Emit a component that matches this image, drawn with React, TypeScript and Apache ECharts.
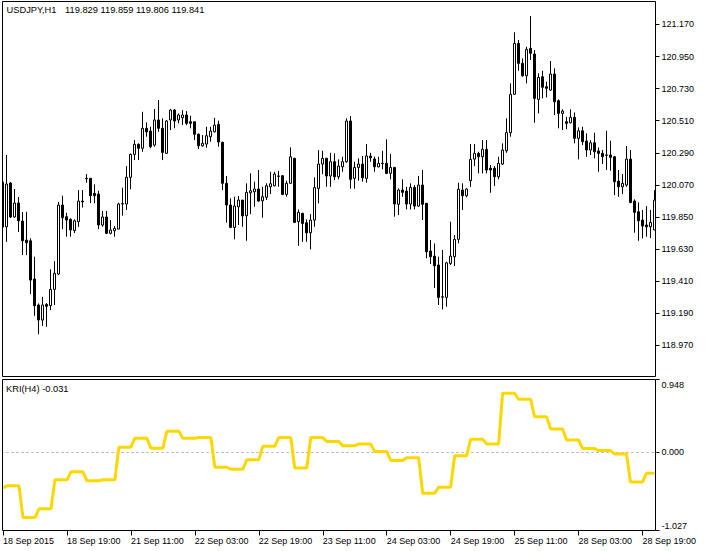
import React, { useEffect, useRef } from 'react';
import * as echarts from 'echarts';

// Tick labels
const priceTicks = [121.17, 120.95, 120.73, 120.51, 120.29, 120.07, 119.85, 119.63, 119.41, 119.19, 118.97];
const kriTicks = [0.948, 0, -1.027];
const timeLabels = [
  '18 Sep 2015', '18 Sep 19:00', '21 Sep 11:00', '22 Sep 03:00', '22 Sep 19:00', '23 Sep 11:00',
  '24 Sep 03:00', '24 Sep 19:00', '25 Sep 11:00', '28 Sep 03:00', '28 Sep 19:00',
];

// USDJPY H1 candles: [open, close, low, high]
const ohlc: number[][] = [
  [120.090, 119.781, 119.761, 120.117], [119.783, 120.076, 119.680, 120.275], [120.083, 119.850, 119.843, 120.090],
  [119.850, 119.946, 119.846, 120.042], [119.946, 119.824, 119.747, 119.987], [119.822, 119.687, 119.589, 119.884],
  [119.692, 119.673, 119.589, 119.886], [119.687, 119.418, 119.322, 119.704], [119.425, 119.242, 119.173, 119.578],
  [119.247, 119.144, 119.046, 119.258], [119.144, 119.247, 119.103, 119.303], [119.251, 119.238, 119.098, 119.260],
  [119.243, 119.354, 119.212, 119.491], [119.354, 119.464, 119.247, 119.548], [119.459, 119.932, 119.452, 119.953],
  [119.932, 119.845, 119.767, 119.996], [119.852, 119.829, 119.715, 119.879], [119.834, 119.761, 119.715, 119.841],
  [119.757, 119.824, 119.740, 119.834], [119.818, 119.959, 119.783, 120.035], [119.959, 119.953, 119.915, 120.035],
  [120.115, 120.113, 120.085, 120.144], [120.115, 119.996, 119.946, 120.117], [120.012, 119.996, 119.944, 120.074],
  [120.007, 119.795, 119.767, 120.030], [119.795, 119.850, 119.783, 119.891], [119.850, 119.738, 119.733, 119.891],
  [119.738, 119.761, 119.731, 119.829], [119.756, 119.772, 119.715, 119.788], [119.767, 119.939, 119.767, 119.948],
  [119.939, 119.942, 119.859, 120.051], [119.939, 120.122, 119.898, 120.199], [120.122, 120.279, 120.040, 120.286],
  [120.279, 120.348, 120.240, 120.377], [120.348, 120.321, 120.240, 120.355], [120.321, 120.458, 120.297, 120.571],
  [120.458, 120.434, 120.400, 120.499], [120.439, 120.332, 120.321, 120.469], [120.343, 120.515, 120.332, 120.590],
  [120.515, 120.458, 120.434, 120.652], [120.458, 120.293, 120.240, 120.526], [120.286, 120.508, 120.284, 120.515],
  [120.515, 120.583, 120.446, 120.590], [120.583, 120.508, 120.458, 120.590], [120.515, 120.549, 120.492, 120.560],
  [120.530, 120.549, 120.480, 120.583], [120.549, 120.492, 120.480, 120.576], [120.503, 120.492, 120.458, 120.544],
  [120.503, 120.417, 120.377, 120.503], [120.417, 120.338, 120.316, 120.423], [120.338, 120.355, 120.332, 120.412],
  [120.350, 120.407, 120.325, 120.469], [120.400, 120.439, 120.366, 120.469], [120.434, 120.480, 120.430, 120.530],
  [120.485, 120.364, 120.332, 120.510], [120.362, 120.081, 120.035, 120.366], [120.081, 119.932, 119.811, 120.131],
  [119.932, 119.779, 119.774, 119.978], [119.779, 119.925, 119.697, 119.989], [119.920, 119.966, 119.795, 119.994],
  [119.966, 119.857, 119.783, 119.966], [119.859, 120.019, 119.687, 120.081], [120.016, 120.030, 119.870, 120.149],
  [120.023, 120.042, 119.920, 120.092], [120.042, 119.959, 119.955, 120.172], [119.961, 119.989, 119.845, 120.057],
  [119.985, 120.064, 119.966, 120.081], [120.057, 120.078, 120.007, 120.160], [120.064, 120.144, 120.060, 120.160],
  [120.131, 120.129, 120.057, 120.167], [120.133, 120.005, 120.000, 120.137], [120.005, 120.081, 119.989, 120.099],
  [120.081, 120.263, 120.078, 120.327], [120.252, 119.813, 119.810, 120.256], [119.818, 119.882, 119.653, 119.902],
  [119.875, 119.806, 119.680, 119.879], [119.811, 119.742, 119.680, 119.834], [119.742, 119.829, 119.628, 119.870],
  [119.829, 120.051, 119.783, 120.122], [120.046, 120.213, 119.944, 120.309], [120.213, 120.252, 120.144, 120.304],
  [120.252, 120.131, 120.057, 120.256], [120.131, 120.229, 120.057, 120.290], [120.229, 120.126, 120.103, 120.286],
  [120.126, 120.199, 120.108, 120.245], [120.194, 120.229, 120.160, 120.263], [120.229, 120.508, 120.222, 120.526],
  [120.508, 120.108, 120.044, 120.542], [120.115, 120.190, 120.044, 120.229], [120.190, 120.213, 120.099, 120.252],
  [120.213, 120.119, 120.092, 120.268], [120.115, 120.268, 120.085, 120.350], [120.268, 120.256, 120.229, 120.290],
  [120.247, 120.194, 120.160, 120.263], [120.194, 120.218, 120.190, 120.263], [120.218, 120.216, 120.177, 120.304],
  [120.218, 120.149, 120.144, 120.382], [120.149, 120.190, 120.108, 120.282], [120.190, 119.939, 119.852, 120.190],
  [119.937, 120.035, 119.863, 120.046], [120.035, 120.019, 119.989, 120.108], [120.028, 119.939, 119.902, 120.057],
  [119.939, 120.053, 119.902, 120.081], [120.053, 119.925, 119.902, 120.069], [119.925, 120.069, 119.920, 120.131],
  [120.069, 119.937, 119.829, 120.172], [119.944, 119.612, 119.567, 119.944], [119.617, 119.578, 119.528, 119.692],
  [119.582, 119.516, 119.363, 119.669], [119.521, 119.299, 119.247, 119.578], [119.303, 119.301, 119.217, 119.624],
  [119.299, 119.536, 119.235, 119.543], [119.532, 119.582, 119.521, 119.818], [119.578, 119.697, 119.514, 119.726],
  [119.697, 120.040, 119.669, 120.085], [120.035, 119.996, 119.898, 120.081], [119.996, 120.042, 119.985, 120.046],
  [120.099, 120.245, 120.057, 120.350], [120.247, 120.286, 120.199, 120.350], [120.286, 120.263, 120.149, 120.297],
  [120.263, 120.314, 120.149, 120.377], [120.314, 120.172, 120.149, 120.377], [120.184, 120.172, 120.016, 120.206],
  [120.184, 120.126, 120.062, 120.199], [120.126, 120.218, 120.108, 120.263], [120.213, 120.309, 120.206, 120.355],
  [120.304, 120.428, 120.290, 120.526], [120.428, 120.691, 120.400, 120.766], [120.691, 121.040, 120.688, 121.116],
  [121.040, 120.903, 120.852, 121.063], [120.903, 120.818, 120.811, 120.937], [120.818, 120.999, 120.766, 121.017],
  [121.006, 120.972, 120.926, 121.227], [120.967, 120.663, 120.496, 120.994], [120.656, 120.807, 120.560, 120.835],
  [120.811, 120.739, 120.663, 120.852], [120.743, 120.732, 120.670, 120.777], [120.720, 120.830, 120.715, 120.919],
  [120.830, 120.640, 120.549, 120.869], [120.647, 120.560, 120.458, 120.656], [120.560, 120.576, 120.446, 120.588],
  [120.503, 120.492, 120.451, 120.537], [120.496, 120.533, 120.492, 120.588], [120.533, 120.389, 120.355, 120.567],
  [120.389, 120.441, 120.245, 120.464], [120.441, 120.366, 120.343, 120.469], [120.371, 120.309, 120.263, 120.423],
  [120.309, 120.359, 120.275, 120.377], [120.359, 120.297, 120.252, 120.428], [120.302, 120.286, 120.160, 120.327],
  [120.286, 120.263, 120.213, 120.309], [120.275, 120.273, 120.172, 120.441], [120.275, 120.259, 120.167, 120.373],
  [120.263, 120.092, 120.000, 120.268], [120.096, 120.057, 119.989, 120.172], [120.057, 120.081, 120.007, 120.144],
  [120.069, 120.247, 120.057, 120.336], [120.247, 119.950, 119.944, 120.309], [119.959, 119.882, 119.742, 119.971],
  [119.886, 119.824, 119.687, 119.950], [119.829, 119.788, 119.704, 119.898], [119.795, 119.783, 119.715, 119.925],
  [119.783, 119.813, 119.706, 119.898], [119.761, 119.966, 119.761, 120.035],
];

// KRI(H4) indicator values, one per H1 bar
const kri = [
  -0.47,
  -0.443, -0.443, -0.443, -0.443, -0.857, -0.857, -0.857, -0.857,
  -0.743, -0.743, -0.743, -0.743, -0.364, -0.364, -0.364, -0.364,
  -0.26, -0.26, -0.26, -0.26, -0.377, -0.377, -0.377, -0.377,
  -0.364, -0.364, -0.364, -0.364, 0.063, 0.063, 0.063, 0.063,
  0.18, 0.18, 0.18, 0.18, 0.05, 0.05, 0.05, 0.05,
  0.27, 0.27, 0.27, 0.27, 0.18, 0.18, 0.18, 0.18,
  0.19, 0.19, 0.19, 0.19, -0.2, -0.2, -0.2, -0.2,
  -0.225, -0.225, -0.225, -0.225, -0.103, -0.103, -0.103, -0.103,
  0.076, 0.076, 0.076, 0.076, 0.19, 0.19, 0.19, 0.19,
  -0.21, -0.21, -0.21, -0.21, 0.19, 0.19, 0.19, 0.19,
  0.136, 0.136, 0.136, 0.136, 0.08, 0.08, 0.08, 0.08,
  0.106, 0.106, 0.106, 0.106, 0.005, 0.005, 0.005, 0.005,
  -0.11, -0.11, -0.11, -0.11, -0.077, -0.077, -0.077, -0.077,
  -0.54, -0.54, -0.54, -0.54, -0.46, -0.46, -0.46, -0.46,
  -0.05, -0.05, -0.05, -0.05, 0.167, 0.167, 0.167, 0.167,
  0.106, 0.106, 0.106, 0.106, 0.768, 0.768, 0.768, 0.768,
  0.69, 0.69, 0.69, 0.69, 0.462, 0.462, 0.462, 0.462,
  0.30, 0.30, 0.30, 0.30, 0.158, 0.158, 0.158, 0.158,
  0.045, 0.045, 0.045, 0.045, 0.018, 0.018, 0.018, 0.018,
  -0.025, -0.025, -0.025, -0.025, -0.394, -0.394, -0.394, -0.394,
  -0.277, -0.277, -0.277,
];

const FONT = "'Liberation Sans', Arial, sans-serif";

export default function App() {
  const ref = useRef<HTMLDivElement>(null);

  useEffect(() => {
    if (!ref.current) return;
    const chart = echarts.init(ref.current, null, { renderer: 'svg' });
    const cats = ohlc.map((_, i) => String(i));
    const labelFont = { fontFamily: FONT, fontSize: 9, color: '#000' };

    chart.setOption({
      animation: false,
      backgroundColor: '#ffffff',
      grid: [
        { left: 0.5, width: 656, top: 1.5, height: 375 },
        { left: 0.5, width: 656, top: 379.5, height: 151 },
      ],
      xAxis: [
        { type: 'category', gridIndex: 0, data: cats, boundaryGap: true, show: false, axisLine: { onZero: false } },
        {
          type: 'category', gridIndex: 1, data: cats, boundaryGap: true, position: 'bottom',
          axisLine: { show: false, onZero: false },
          axisTick: { show: true, alignWithLabel: true, interval: 15, length: 5, lineStyle: { color: '#000', width: 1 } },
          axisLabel: {
            ...labelFont, interval: 15, align: 'left', margin: 6,
            formatter: (_v: string, i: number) => (i % 16 === 0 ? timeLabels[i / 16] ?? '' : ''),
          },
          splitLine: { show: false },
        },
      ],
      yAxis: [
        {
          type: 'value', gridIndex: 0, position: 'right', offset: -1,
          min: 118.757, max: 121.327,
          axisLine: { show: false, onZero: false }, splitLine: { show: false },
          axisTick: { show: true, length: 4, customValues: priceTicks, lineStyle: { color: '#000', width: 1 } },
          axisLabel: { ...labelFont, margin: 6, customValues: priceTicks, formatter: (v: number) => v.toFixed(3) },
        },
        {
          type: 'value', gridIndex: 1, position: 'right', offset: -1,
          min: -1.027, max: 0.948,
          axisLine: { show: false, onZero: false }, splitLine: { show: false },
          axisTick: { show: true, length: 4, customValues: kriTicks, lineStyle: { color: '#000', width: 1 } },
          axisLabel: {
            ...labelFont, margin: 6, customValues: kriTicks,
            formatter: (v: number) =>
              v === kriTicks[0] ? `{t|${v.toFixed(3)}}` : v === kriTicks[2] ? `{b|${v.toFixed(3)}}` : v.toFixed(3),
            rich: {
              t: { fontFamily: FONT, fontSize: 9, color: '#000', padding: [10, 0, 0, 0] },
              b: { fontFamily: FONT, fontSize: 9, color: '#000', padding: [0, 0, 10, 0] },
            },
          },
        },
      ],
      series: [
        {
          type: 'candlestick', xAxisIndex: 0, yAxisIndex: 0, data: ohlc, barWidth: 2, clip: true,
          itemStyle: {
            color: '#ffffff', color0: '#000000',
            borderColor: '#000000', borderColor0: '#000000', borderColorDoji: '#000000', borderWidth: 1,
          },
        },
        {
          type: 'line', xAxisIndex: 1, yAxisIndex: 1, data: kri, showSymbol: false, symbol: 'none',
          lineStyle: { color: '#FFD700', width: 3 }, z: 3,
          markLine: {
            silent: true, symbol: ['none', 'none'], label: { show: false },
            lineStyle: { color: '#c0c0c0', type: [3, 2], width: 1 },
            data: [{ yAxis: 0 }],
            z: 1,
          },
        },
      ],
      graphic: [
        { type: 'rect', z: 100, shape: { x: 0, y: 0, width: 2, height: 531 }, style: { fill: '#ffffff' } },
        { type: 'rect', z: 101, shape: { x: 2.5, y: 1.5, width: 653, height: 375 }, style: { fill: 'none', stroke: '#000', lineWidth: 1 } },
        { type: 'rect', z: 101, shape: { x: 2.5, y: 379.5, width: 653, height: 151 }, style: { fill: 'none', stroke: '#000', lineWidth: 1 } },
        { type: 'text', z: 102, x: 6.5, y: 9.5, style: { text: 'USDJPY,H1', fontFamily: FONT, fontSize: 9.3, fill: '#000', verticalAlign: 'middle', align: 'left' } },
        { type: 'text', z: 102, x: 65, y: 9.5, style: { text: '119.829 119.859 119.806 119.841', fontFamily: FONT, fontSize: 9.3, fill: '#000', verticalAlign: 'middle', align: 'left' } },
        { type: 'text', z: 102, x: 6, y: 388.5, style: { text: 'KRI(H4) -0.031', fontFamily: FONT, fontSize: 9.3, fill: '#000', verticalAlign: 'middle', align: 'left' } },
      ],
    });

    return () => chart.dispose();
  }, []);

  return (
    <div
      ref={ref}
      style={{ position: 'fixed', left: 0, top: 0, width: 707, height: 551, background: '#ffffff' }}
    />
  );
}
